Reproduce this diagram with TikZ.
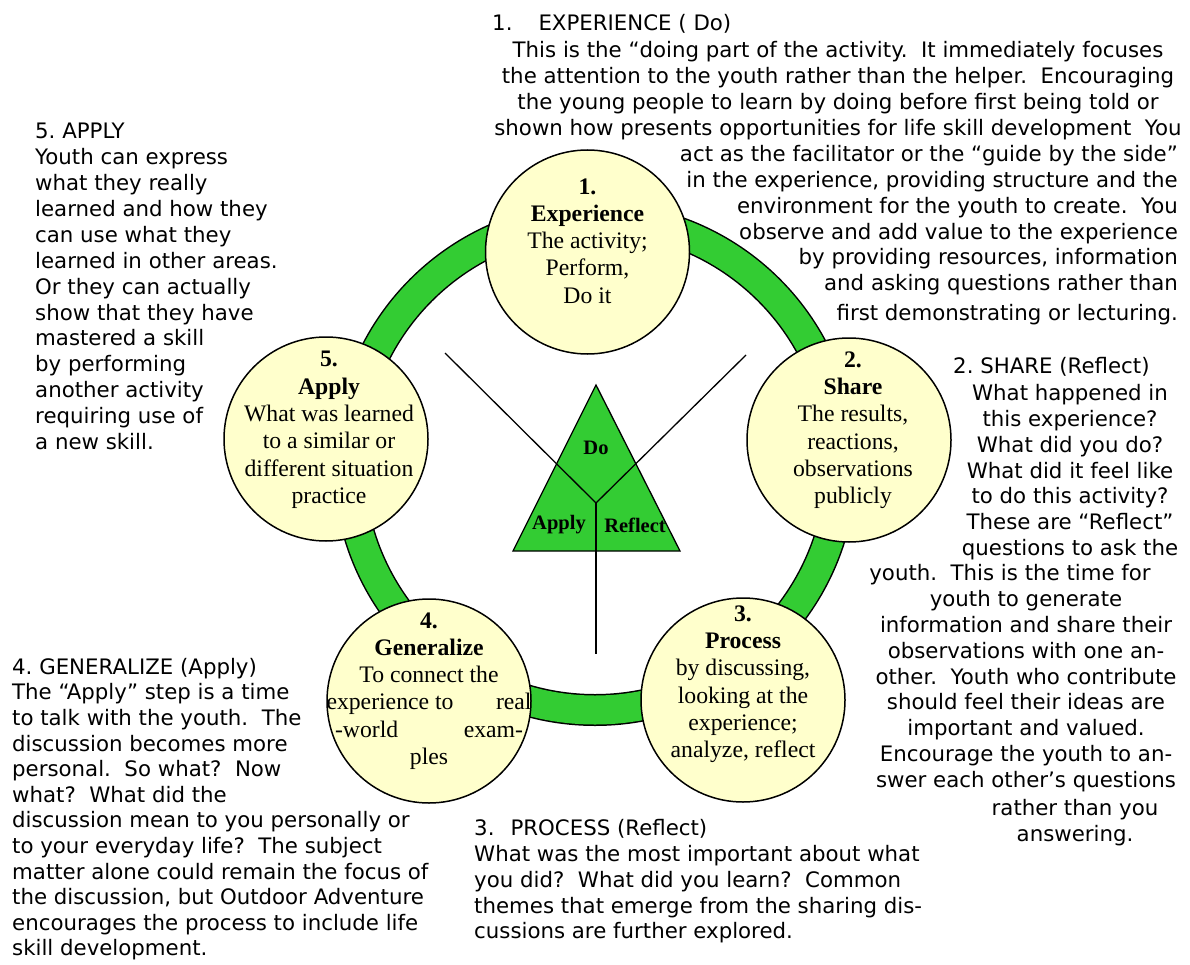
\documentclass[tikz,border=0pt]{standalone}
\usepackage{fontspec}
\setmainfont{Liberation Serif}
\setsansfont{DejaVu Sans}
\usetikzlibrary{positioning}
\definecolor{ringgreen}{HTML}{33CC33}
\definecolor{paleyellow}{HTML}{FFFFCC}
\frenchspacing

\begin{document}
\begin{tikzpicture}[
    x=1pt, y=-1pt,
    stage/.style={
        draw,
        circle,
        fill=paleyellow,
        line width=1.5pt,
        minimum size=204pt,
        inner sep=0pt
    },
    stagetext/.style={
        anchor=north,
        align=center,
        inner sep=0pt,
        font=\fontsize{23.7}{27.3}\selectfont
    },
    note/.style={
        inner sep=0pt,
        font=\sffamily\fontsize{21.3}{25.9}\selectfont
    },
    tag/.style={inner sep=0pt, font=\bfseries\fontsize{20.5}{24}\selectfont},
    link/.style={line width=1.3pt}
]
\useasboundingbox (0,0) rectangle (1190,965);

% green cycle ring
\coordinate (hubring) at (595,464);
\draw[line width=32pt] (hubring) circle[radius=246];
\draw[ringgreen, line width=29pt] (hubring) circle[radius=246];

% the five stages
\node[stage] (exp) at (587.5,252) {};
\node[stage] (share) at (849,440) {};
\node[stage] (process) at (743,700) {};
\node[stage] (general) at (429,701) {};
\node[stage] (apply) at (326,439) {};

\node[stagetext] (exptext) at ([yshift=-29pt]exp.north)
    {\textbf{1.}\\\textbf{Experience}\\The activity;\\Perform,\\Do it};
\node[stagetext] (sharetext) at ([xshift=4pt,yshift=-14pt]share.north)
    {\textbf{2.}\\\textbf{Share}\\The results,\\reactions,\\observations\\publicly};
\node[stagetext] (processtext) at ([yshift=-8pt]process.north)
    {\textbf{3.}\\\textbf{Process}\\by discussing,\\looking at the\\experience;\\analyze, reflect};
\node[stagetext] (generaltext) at ([yshift=-14pt]general.north)
    {\textbf{4.}\\\textbf{Generalize}\\To connect the\\
     \makebox[205pt]{experience to\hfill real}\\
     \makebox[188pt]{-world\hfill exam-}\\ples};
\node[stagetext] (applytext) at ([xshift=3pt,yshift=-15pt]apply.north)
    {\textbf{5.}\\\textbf{Apply}\\What was learned\\to a similar or\\different situation\\practice};

% triangle with its three arms
\coordinate (apex) at (596,385);
\coordinate (baseleft) at (513,551);
\coordinate (baseright) at (680,551);
\draw[link, fill=ringgreen] (apex) -- (baseleft) -- (baseright) -- cycle;

\coordinate (hub) at (596,503);
\coordinate (armleft) at (445,353);
\coordinate (armright) at (746,355);
\coordinate (armdown) at (596,654);
\draw[link] (armleft) -- (hub) -- (armright);
\draw[link] (hub) -- (armdown);

\node[tag] (do) at (596,448) {Do};
\node[tag] (applytag) at (559,525) {Apply};
\node[tag] (reflecttag) at (635,525) {Reflect};

% notes around the cycle
\node[note, anchor=north west] (expnote) at (492,14)
    {1.\hspace{26pt}EXPERIENCE ( Do)};
\node[note, anchor=north, align=center] (expbody) at (838,41)
    {This is the “doing part of the activity.~~It immediately focuses\\
     the attention to the youth rather than the helper.~~Encouraging\\
     the young people to learn by doing before first being told or\\
     shown how presents opportunities for life skill development~~You};
\node[note, anchor=north east, align=right] (expwrap) at (1178,145)
    {act as the facilitator or the “guide by the side”\\
     in the experience, providing structure and the\\
     environment for the youth to create.~~You\\
     observe and add value to the experience\\
     by providing resources, information\\
     and asking questions rather than\\[4pt]
     first demonstrating or lecturing.};

\node[note, anchor=north west, align=left] (sharenote) at (953,357)
    {2. SHARE (Reflect)};
\node[note, anchor=north, align=center] (sharebody) at (1070,384)
    {What happened in\\this experience?\\What did you do?\\What did it feel like\\
     to do this activity?\\These are “Reflect”\\questions to ask the};
\node[note, anchor=north] (sharemid) at (1010,564)
    {youth.~~This is the time for};
\node[note, anchor=north, align=center] (sharelow) at (1026,590)
    {youth to generate\\information and share their\\observations with one an-\\
     other.~~Youth who contribute\\should feel their ideas are\\important and valued.\\
     Encourage the youth to an-\\swer each other’s questions};
\node[note, anchor=north, align=center] (shareend) at (1075,799)
    {rather than you\\answering.};

\node[note, anchor=north west, align=left] (processnote) at (474,819)
    {3.\hspace{16pt}PROCESS (Reflect)\\
     What was the most important about what\\
     you did?~~What did you learn?~~Common\\
     themes that emerge from the sharing dis-\\
     cussions are further explored.};

\node[note, anchor=north west, align=left,
      font=\sffamily\fontsize{21.3}{25.6}\selectfont] (generalnote) at (12,658)
    {4. GENERALIZE (Apply)\\
     The “Apply” step is a time\\
     to talk with the youth.~~The\\
     discussion becomes more\\
     personal.~~So what?~~Now\\
     what?~~What did the\\
     discussion mean to you personally or\\
     to your everyday life?~~The subject\\
     matter alone could remain the focus of\\
     the discussion, but Outdoor Adventure\\
     encourages the process to include life\\
     skill development.};

\node[note, anchor=north west, align=left] (applynote) at (35,123)
    {5. APPLY\\Youth can express\\what they really\\learned and how they\\
     can use what they\\learned in other areas.\\Or they can actually\\
     show that they have\\mastered a skill\\by performing\\another activity\\
     requiring use of\\a new skill.};

\end{tikzpicture}
\end{document}
